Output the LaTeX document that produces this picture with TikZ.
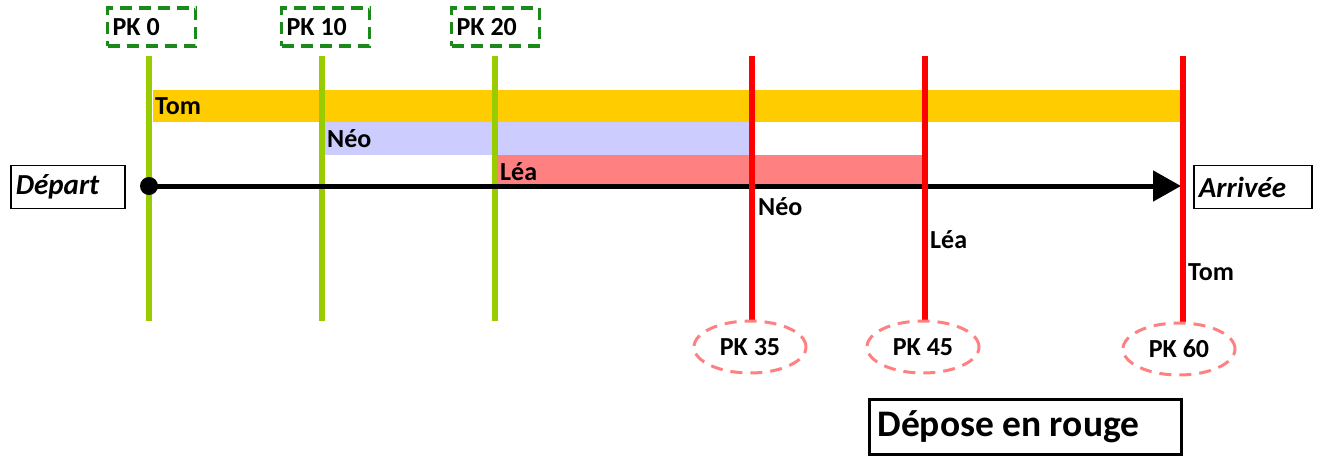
\documentclass[tikz,border=0pt]{standalone}
\usepackage{fontspec}
\setmainfont{Carlito}
\usetikzlibrary{shapes.geometric,arrows.meta}
\definecolor{lgreen}{HTML}{99CC00}
\definecolor{dgreen}{HTML}{1A8A1A}
\definecolor{tomc}{HTML}{FFCC00}
\definecolor{neoc}{HTML}{CCCCFF}
\definecolor{leac}{HTML}{FF8080}
\definecolor{pkred}{HTML}{FF8080}
\newcommand{\natsp}{\spaceskip=0pt\relax\xspaceskip=0pt\relax}
\begin{document}
\begin{tikzpicture}[x=1pt,y=-1pt,
  lbl/.style={font=\fontsize{26}{28}\selectfont\bfseries, inner sep=0pt, anchor=west},
  gline/.style={draw=lgreen, line width=6pt},
  rline/.style={draw=red, line width=6pt},
  gbox/.style={draw=dgreen, dash pattern=on 12pt off 7pt, line width=3.2pt,
    anchor=west, text width=78pt, align=left, inner xsep=5pt, inner ysep=0pt,
    minimum height=38pt, font=\fontsize{26}{28}\selectfont\bfseries},
  rell/.style={ellipse, draw=pkred, dash pattern=on 12pt off 8pt, line width=3pt,
    minimum width=112pt, minimum height=52pt, inner sep=0pt,
    font=\fontsize{26}{28}\selectfont\bfseries},
  endbox/.style={draw=black, line width=1.8pt, anchor=west, align=left,
    inner xsep=5pt, inner ysep=0pt, minimum height=43pt,
    font=\fontsize{29}{31}\selectfont\bfseries\itshape}
]
\useasboundingbox (0,0) rectangle (1318,461);

% bars
\fill[tomc] (153,90) rectangle (1180,122);
\fill[neoc] (325,122) rectangle (749,155);
\fill[leac] (498,155) rectangle (922,186);

% coordinates for vertical lines
\coordinate (g0t) at (149,56);  \coordinate (g0b) at (149,321);
\coordinate (g1t) at (322,56);  \coordinate (g1b) at (322,321);
\coordinate (g2t) at (495,56);  \coordinate (g2b) at (495,321);
\coordinate (r0t) at (752,56);  \coordinate (r0b) at (752,320);
\coordinate (r1t) at (925,56);  \coordinate (r1b) at (925,320);
\coordinate (r2t) at (1183,56); \coordinate (r2b) at (1183,322);

\draw[gline] (g0t) -- (g0b);
\draw[gline] (g1t) -- (g1b);
\draw[gline] (g2t) -- (g2b);

% arrow
\node[circle, fill=black, inner sep=0pt, minimum size=18pt] (dot) at (149,186) {};
\coordinate (aend) at (1181,186);
\draw[line width=5pt, -{Triangle[length=28pt,width=30pt]}] (dot.center) -- (aend);

\draw[rline] (r0t) -- (r0b);
\draw[rline] (r1t) -- (r1b);
\draw[rline] (r2t) -- (r2b);

% bar labels
\node[lbl] (tom1) at (155,106) {Tom};
\node[lbl] (neo1) at (327,139) {Néo};
\node[lbl] (lea1) at (500,172) {Léa};
\node[lbl] (neo2) at (758,207) {Néo};
\node[lbl] (lea2) at (930,240) {Léa};
\node[lbl] (tom2) at (1188,272) {Tom};

% green boxes
\node[gbox] (pk0) at (106,27) {\natsp PK 0};
\node[gbox] (pk10) at (280,27) {\natsp PK 10};
\node[gbox] (pk20) at (450,27) {\natsp PK 20};

% red ellipses
\node[rell] (pk35) at (750,347) {PK 35};
\node[rell] (pk45) at (923,347) {PK 45};
\node[rell] (pk60) at (1179,349) {PK 60};

% end boxes
\node[endbox, text width=104pt] (dep) at (10,187) {Départ};
\node[endbox, text width=108pt] (arr) at (1193,187) {Arrivée};

% legend box
\node[draw=black, line width=2.8pt, anchor=west, align=left, text width=296pt,
  inner xsep=8pt, inner ysep=0pt, minimum height=55pt,
  font=\fontsize{37.5}{39}\selectfont\bfseries] (dep2) at (868,427) {\natsp Dépose en rouge};
\end{tikzpicture}
\end{document}
